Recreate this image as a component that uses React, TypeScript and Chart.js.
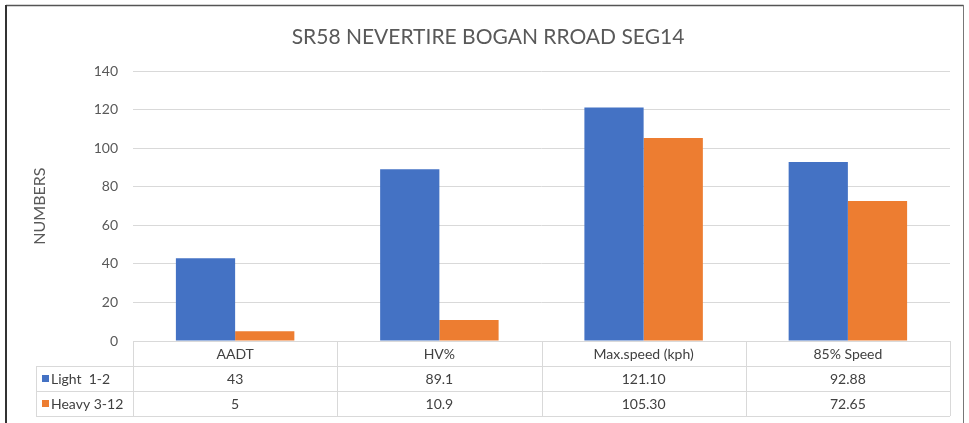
import React, { useEffect, useRef } from "react";
import { Chart, registerables } from "chart.js";

Chart.register(...registerables);

const chartTitle = "SR58 NEVERTIRE BOGAN RROAD SEG14";
const categories = ["AADT", "HV%", "Max.speed (kph)", "85% Speed"];
const seriesNames = ["Light  1-2", "Heavy 3-12"];
const lightValues = [43, 89.1, 121.1, 92.88];
const heavyValues = [5, 10.9, 105.3, 72.65];
const lightLabels = ["43", "89.1", "121.10", "92.88"];
const heavyLabels = ["5", "10.9", "105.30", "72.65"];
const yTickMin = 0;
const yTickMax = 140;
const yTickStep = 20;
const yTitle = "NUMBERS";

const FONT = "Lato, 'Open Sans', sans-serif";
const TEXT = "#595959";
const GRID = "#d9d9d9";

const tablePlugin = {
  id: "dataTable",
  beforeDraw(chart: any) {
    const { ctx, width, height } = chart;
    ctx.save();
    ctx.fillStyle = "#ffffff";
    ctx.fillRect(0, 0, width, height);
    ctx.restore();
  },
  afterDraw(chart: any) {
    const { ctx, chartArea } = chart;
    const x = chart.scales.x;
    const n = categories.length;
    const colW = x.width / n;
    const bounds: number[] = [];
    for (let i = 0; i <= n; i++) bounds.push(x.getPixelForValue(0) - colW / 2 + i * colW);
    const top = chartArea.bottom;
    const rowH = 25;
    const tableLeft = 36;
    const right = bounds[n];

    ctx.save();
    ctx.strokeStyle = GRID;
    ctx.lineWidth = 1;
    ctx.beginPath();
    ctx.moveTo(bounds[0], Math.round(top) + 0.5);
    ctx.lineTo(right, Math.round(top) + 0.5);
    for (let r = 1; r <= 3; r++) {
      const y = Math.round(top + r * rowH) + 0.5;
      ctx.moveTo(tableLeft, y);
      ctx.lineTo(right, y);
    }
    for (let i = 0; i <= n; i++) {
      const bx = Math.round(bounds[i]) + 0.5;
      ctx.moveTo(bx, top);
      ctx.lineTo(bx, top + 3 * rowH);
    }
    ctx.moveTo(tableLeft + 0.5, top + rowH);
    ctx.lineTo(tableLeft + 0.5, top + 3 * rowH);
    ctx.stroke();

    ctx.font = `14px ${FONT}`;
    ctx.fillStyle = "#404040";
    ctx.textAlign = "center";
    ctx.textBaseline = "middle";
    const rows = [categories, lightLabels, heavyLabels];
    rows.forEach((row, r) => {
      row.forEach((t, i) => {
        ctx.fillText(t, (bounds[i] + bounds[i + 1]) / 2, top + r * rowH + rowH / 2 + 1);
      });
    });

    chart.data.datasets.forEach((ds: any, k: number) => {
      const cy = top + (k + 1) * rowH + rowH / 2;
      ctx.fillStyle = ds.backgroundColor;
      ctx.fillRect(tableLeft + 6, cy - 3.5, 7, 7);
      ctx.fillStyle = "#404040";
      ctx.textAlign = "left";
      ctx.fillText(ds.label, tableLeft + 15, cy + 1);
    });

    // outer frame
    ctx.strokeStyle = "#555555";
    ctx.lineWidth = 1.5;
    ctx.beginPath();
    ctx.moveTo(6, 5.5);
    ctx.lineTo(963.5, 5.5);
    ctx.stroke();
    ctx.strokeStyle = "#333333";
    ctx.lineWidth = 2;
    ctx.beginPath();
    ctx.moveTo(6, 5);
    ctx.lineTo(6, chart.height);
    ctx.stroke();
    ctx.strokeStyle = "#777777";
    ctx.lineWidth = 1;
    ctx.beginPath();
    ctx.moveTo(963.5, 5);
    ctx.lineTo(963.5, chart.height);
    ctx.stroke();
    ctx.restore();
  },
};

export default function App() {
  const ref = useRef<HTMLCanvasElement>(null);
  useEffect(() => {
    if (!ref.current) return;
    const chart = new Chart(ref.current, {
      type: "bar",
      data: {
        labels: categories,
        datasets: [
          {
            label: seriesNames[0],
            data: lightValues,
            backgroundColor: "#4472C4",
            barPercentage: 1,
            categoryPercentage: 0.58,
          },
          {
            label: seriesNames[1],
            data: heavyValues,
            backgroundColor: "#ED7D31",
            barPercentage: 1,
            categoryPercentage: 0.58,
          },
        ],
      },
      options: {
        responsive: false,
        animation: false,
        layout: { padding: { left: 26, right: 19, top: 0, bottom: 82 } },
        plugins: {
          legend: { display: false },
          tooltip: { enabled: false },
          title: {
            display: true,
            text: chartTitle,
            color: TEXT,
            font: { family: FONT, size: 21, weight: "normal" },
            padding: { top: 25, bottom: 21 },
          },
        },
        scales: {
          x: { display: false },
          y: {
            min: yTickMin,
            max: yTickMax,
            afterFit: (s: any) => {
              s.width = 107;
            },
            ticks: {
              stepSize: yTickStep,
              color: TEXT,
              padding: 15,
              font: { family: FONT, size: 14 },
            },
            grid: { color: GRID, drawTicks: false },
            border: { display: false },
            title: {
              display: true,
              text: yTitle,
              color: TEXT,
              font: { family: FONT, size: 16 },
            },
          },
        },
      },
      plugins: [tablePlugin],
    });
    return () => chart.destroy();
  }, []);
  return (
    <div style={{ position: "fixed", left: 0, top: 0, width: 969, height: 423, background: "#fff" }}>
      <canvas ref={ref} width={969} height={423} style={{ width: 969, height: 423 }} />
    </div>
  );
}
